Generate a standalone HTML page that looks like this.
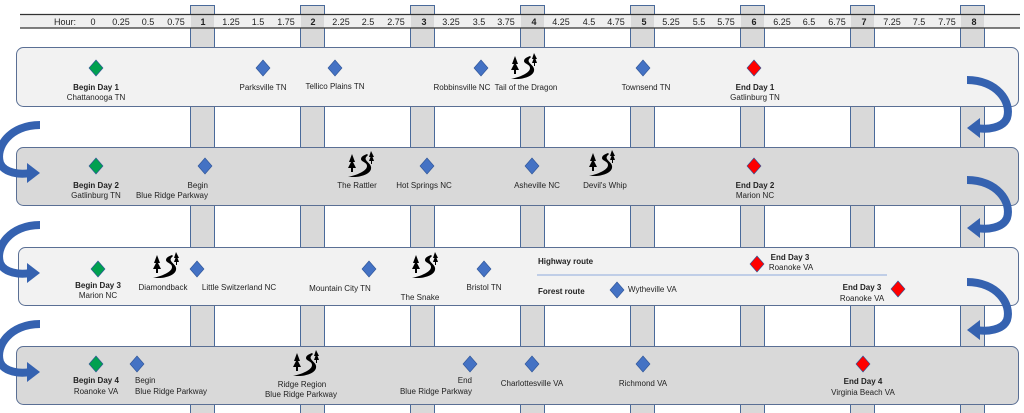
<!DOCTYPE html>
<html><head><meta charset="utf-8"><style>
html,body{margin:0;padding:0;background:#fff;}
svg{display:block;font-family:"Liberation Sans",sans-serif;}
</style></head><body>
<svg width="1024" height="413" viewBox="0 0 1024 413" xmlns="http://www.w3.org/2000/svg">
<defs>
<g id="d"><polygon points="0,-8 7,0 0,8 -7,0" fill="#4472c4" stroke="#2f5597" stroke-width="0.6"/></g>
<g id="g"><polygon points="0,-8 7,0 0,8 -7,0" fill="#00a050" stroke="#2f5597" stroke-width="0.6"/></g>
<g id="r"><polygon points="0,-8 7,0 0,8 -7,0" fill="#ff0000" stroke="#2f5597" stroke-width="0.6"/></g>
<g id="road">
<path d="M-13,12 C-4,10 6,6 6,1 C6,-3 0,-3 0,-6 C0,-9 4,-10 6,-11 L7,-10 C5,-8 4,-7 5,-5 C7,-2 11,0 10,4 C9,9 0,12 -7,12 Z" fill="#000"/>
<polygon points="-9,-11 -12,-3 -10,-3 -13,3 -10,3 -10,7 -8,7 -8,3 -5,3 -8,-3 -6,-3" fill="#000"/>
<polygon points="10,-14 8,-8 9.5,-8 8,-4 10,-4 10,-1 11,-1 11,-4 13,-4 11.5,-8 13,-8" fill="#000"/>
</g>
<g id="ar"><path d="M0,0 C30,0 45,22 40,38 C36,48 20,50 10,48" fill="none" stroke="#3562b0" stroke-width="8"/><polygon points="0,48 13,38 13,58" fill="#3562b0"/></g>
</defs>
<!-- vertical bars -->
<g fill="#d9d9d9" stroke="#4a6a9a" stroke-width="1">
<rect x="190.5" y="5.5" width="24" height="410"/>
<rect x="300.5" y="5.5" width="24" height="410"/>
<rect x="410.5" y="5.5" width="24" height="410"/>
<rect x="520.5" y="5.5" width="24" height="410"/>
<rect x="630.5" y="5.5" width="24" height="410"/>
<rect x="740.5" y="5.5" width="24" height="410"/>
<rect x="850.5" y="5.5" width="24" height="410"/>
<rect x="960.5" y="5.5" width="24" height="410"/>
</g>
<!-- header -->
<rect x="20" y="14.5" width="1000" height="13.5" fill="#efefef"/>
<g fill="#d9d9d9"><rect x="191" y="15" width="23" height="13"/><rect x="301" y="15" width="23" height="13"/><rect x="411" y="15" width="23" height="13"/><rect x="521" y="15" width="23" height="13"/><rect x="631" y="15" width="23" height="13"/><rect x="741" y="15" width="23" height="13"/><rect x="851" y="15" width="23" height="13"/><rect x="961" y="15" width="23" height="13"/></g>
<line x1="20" y1="14.5" x2="1020" y2="14.5" stroke="#333" stroke-width="1.2"/>
<line x1="20" y1="28" x2="1020" y2="28" stroke="#333" stroke-width="1.2"/>
<g font-size="9" fill="#222" text-anchor="middle">
<text x="65" y="25">Hour:</text>
<text x="93" y="25">0</text><text x="121" y="25">0.25</text><text x="148" y="25">0.5</text><text x="176" y="25">0.75</text>
<text x="203" y="25" font-weight="bold">1</text><text x="231" y="25">1.25</text><text x="258" y="25">1.5</text><text x="286" y="25">1.75</text>
<text x="313" y="25" font-weight="bold">2</text><text x="341" y="25">2.25</text><text x="368" y="25">2.5</text><text x="396" y="25">2.75</text>
<text x="424" y="25" font-weight="bold">3</text><text x="451" y="25">3.25</text><text x="479" y="25">3.5</text><text x="506" y="25">3.75</text>
<text x="534" y="25" font-weight="bold">4</text><text x="561" y="25">4.25</text><text x="589" y="25">4.5</text><text x="616" y="25">4.75</text>
<text x="644" y="25" font-weight="bold">5</text><text x="671" y="25">5.25</text><text x="699" y="25">5.5</text><text x="726" y="25">5.75</text>
<text x="754" y="25" font-weight="bold">6</text><text x="782" y="25">6.25</text><text x="809" y="25">6.5</text><text x="837" y="25">6.75</text>
<text x="864" y="25" font-weight="bold">7</text><text x="892" y="25">7.25</text><text x="919" y="25">7.5</text><text x="947" y="25">7.75</text>
<text x="974" y="25" font-weight="bold">8</text>
</g>
<!-- rows -->
<g stroke="#5a6f94" stroke-width="1">
<rect x="16.5" y="47.5" width="1002" height="59" rx="7" fill="#f2f2f2"/>
<rect x="16.5" y="147.5" width="1002" height="58" rx="7" fill="#d9d9d9"/>
<rect x="18.5" y="247.5" width="1000" height="58" rx="7" fill="#f2f2f2"/>
<rect x="16.5" y="346.5" width="1002" height="58" rx="7" fill="#d9d9d9"/>
</g>
<!-- arrows -->
<use href="#ar" x="967" y="80" transform=""/>
<use href="#ar" x="967" y="180"/>
<use href="#ar" x="967" y="282"/>
<g transform="translate(40,125) scale(-1,1)"><use href="#ar"/></g>
<g transform="translate(40,225) scale(-1,1)"><use href="#ar"/></g>
<g transform="translate(40,324) scale(-1,1)"><use href="#ar"/></g>
<g font-size="8" fill="#222" text-anchor="middle">
<!-- row1 -->
<use href="#g" x="96" y="68"/><text x="96" y="90" font-weight="bold">Begin Day 1</text><text x="96" y="100">Chattanooga TN</text>
<use href="#d" x="263" y="68"/><text x="263" y="90">Parksville TN</text>
<use href="#d" x="335" y="68"/><text x="335" y="89">Tellico Plains TN</text>
<use href="#d" x="481" y="68"/><text x="462" y="90">Robbinsville NC</text>
<use href="#road" x="524" y="67"/><text x="526" y="90">Tail of the Dragon</text>
<use href="#d" x="643" y="68"/><text x="646" y="90">Townsend TN</text>
<use href="#r" x="754" y="68"/><text x="755" y="90" font-weight="bold">End Day 1</text><text x="755" y="100">Gatlinburg TN</text>
<!-- row2 -->
<use href="#g" x="96" y="166"/><text x="96" y="188" font-weight="bold">Begin Day 2</text><text x="96" y="198">Gatlinburg TN</text>
<use href="#d" x="205" y="166"/><text x="208" y="188" text-anchor="end">Begin</text><text x="208" y="198" text-anchor="end">Blue Ridge Parkway</text>
<use href="#road" x="361" y="165"/><text x="357" y="188">The Rattler</text>
<use href="#d" x="427" y="166"/><text x="424" y="188">Hot Springs NC</text>
<use href="#d" x="532" y="166"/><text x="537" y="188">Asheville NC</text>
<use href="#road" x="602" y="164"/><text x="605" y="188">Devil's Whip</text>
<use href="#r" x="754" y="166"/><text x="755" y="188" font-weight="bold">End Day 2</text><text x="755" y="198">Marion NC</text>
<!-- row3 -->
<use href="#g" x="98" y="269"/><text x="98" y="288" font-weight="bold">Begin Day 3</text><text x="98" y="298">Marion NC</text>
<use href="#road" x="166" y="266"/><text x="163" y="290">Diamondback</text>
<use href="#d" x="197" y="269"/><text x="239" y="290">Little Switzerland NC</text>
<use href="#d" x="369" y="269"/><text x="340" y="291">Mountain City TN</text>
<use href="#road" x="425" y="266"/><text x="420" y="300">The Snake</text>
<use href="#d" x="484" y="269"/><text x="484" y="290">Bristol TN</text>
<text x="538" y="264" text-anchor="start" font-weight="bold">Highway route</text>
<use href="#r" x="757" y="264"/><text x="790" y="260" font-weight="bold">End Day 3</text><text x="791" y="270">Roanoke VA</text>
<line x1="537" y1="275" x2="887" y2="275" stroke="#8faadc" stroke-width="1"/>
<text x="538" y="294" text-anchor="start" font-weight="bold">Forest route</text>
<use href="#d" x="617" y="290"/><text x="628" y="292" text-anchor="start">Wytheville VA</text>
<text x="862" y="290" font-weight="bold">End Day 3</text><text x="862" y="301">Roanoke VA</text>
<use href="#r" x="898" y="289"/>
<!-- row4 -->
<use href="#g" x="96" y="364"/><text x="96" y="383" font-weight="bold">Begin Day 4</text><text x="96" y="394">Roanoke VA</text>
<use href="#d" x="137" y="364"/><text x="135" y="383" text-anchor="start">Begin</text><text x="135" y="394" text-anchor="start">Blue Ridge Parkway</text>
<use href="#road" x="306" y="364"/><text x="302" y="387">Ridge Region</text><text x="301" y="397">Blue Ridge Parkway</text>
<use href="#d" x="470" y="364"/><text x="472" y="383" text-anchor="end">End</text><text x="472" y="394" text-anchor="end">Blue Ridge Parkway</text>
<use href="#d" x="532" y="364"/><text x="532" y="386">Charlottesville VA</text>
<use href="#d" x="643" y="364"/><text x="643" y="386">Richmond VA</text>
<use href="#r" x="863" y="364"/><text x="863" y="384" font-weight="bold">End Day 4</text><text x="863" y="395">Virginia Beach VA</text>
</g>
</svg>
</body></html>
